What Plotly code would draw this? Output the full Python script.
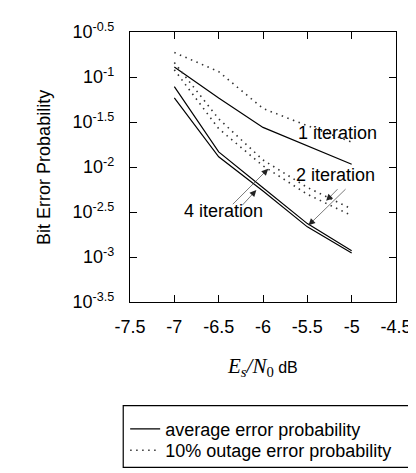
import plotly.graph_objects as go

# ---- data (log10 of bit error probability) ----
snr_db = [-7.0, -6.5, -6.0, -5.5, -5.0]
avg_iter1 = [-0.888, -1.233, -1.560, -1.764, -1.969]
out_iter1 = [-0.728, -0.940, -1.350, -1.541, -1.723]
avg_iter2 = [-1.106, -1.832, -2.230, -2.629, -2.931]
avg_iter4 = [-1.233, -1.886, -2.267, -2.665, -2.956]
out_iter2 = [-0.840, -1.465, -1.922, -2.227, -2.466]
out_iter4 = [-0.920, -1.574, -1.987, -2.303, -2.540]

x_tick_vals = [-7.5, -7, -6.5, -6, -5.5, -5, -4.5]
x_tick_text = ["-7.5", "-7", "-6.5", "-6", "-5.5", "-5", "-4.5"]
y_tick_exps = [-0.5, -1, -1.5, -2, -2.5, -3, -3.5]
y_tick_text = ["10<sup>-0.5</sup>", "10<sup>-1</sup>", "10<sup>-1.5</sup>", "10<sup>-2</sup>",
               "10<sup>-2.5</sup>", "10<sup>-3</sup>", "10<sup>-3.5</sup>"]

legend_names = ["average error probability", "10% outage error probability"]

FONT = "Liberation Sans, Arial, sans-serif"
W, H = 416, 473
L, R, T, B = 122, 19, 24, 173
PW, PH = W - L - R, H - T - B


def px_x(p):
    return (p - L) / PW


def px_y(p):
    return (H - B - p) / PH


solid = dict(color="black", width=1.2)
dotted = dict(color="#333333", width=1.6, dash="1.5px,4.5px")

fig = go.Figure()
series = [
    (avg_iter1, solid, True, legend_names[0], "legend"),
    (out_iter1, dotted, True, legend_names[1], "legend2"),
    (avg_iter2, solid, False, "avg 2", "legend"),
    (avg_iter4, solid, False, "avg 4", "legend"),
    (out_iter2, dotted, False, "out 2", "legend"),
    (out_iter4, dotted, False, "out 4", "legend"),
]
for vals, style, show, name, leg in series:
    fig.add_trace(go.Scatter(
        x=snr_db, y=[10 ** v for v in vals], mode="lines",
        line=style, name=name, showlegend=show, legend=leg,
    ))

annotations = []
# curve labels (positions in data coords, y in log10 units)
for text, xx, yy in [("1 iteration", -5.161, -1.621),
                     ("2 iteration", -5.179, -2.093),
                     ("4 iteration", -6.447, -2.491)]:
    annotations.append(dict(x=xx, y=yy, xref="x", yref="y", text=text, showarrow=False,
                            xanchor="center", yanchor="middle",
                            font=dict(family=FONT, size=18, color="black")))
# pointer arrows (head, tail)
for hx, hy, tx, ty in [(-5.941, -2.020, -6.357, -2.430),
                       (-6.075, -2.256, -6.249, -2.441),
                       (-5.288, -2.376, -5.143, -2.230),
                       (-5.487, -2.648, -5.052, -2.230)]:
    annotations.append(dict(x=hx, y=hy, xref="x", yref="y", ax=tx, ay=ty, axref="x", ayref="y",
                            text="", showarrow=True, arrowhead=2, arrowsize=2.2,
                            arrowwidth=0.6, arrowcolor="#222222", standoff=0, startstandoff=0))
# axis titles
annotations.append(dict(x=px_x(33), y=0.5, xref="paper", yref="paper", text="Bit Error Probability",
                        textangle=-90, showarrow=False, xanchor="center", yanchor="middle",
                        font=dict(family=FONT, size=18, color="black")))
annotations.append(dict(
    x=px_x(259), y=px_y(366), xref="paper", yref="paper", showarrow=False,
    xanchor="center", yanchor="middle",
    text='<span style="font-family:Liberation Serif, Times New Roman, serif;font-size:21px">'
         '<i>E<sub>s</sub>/N</i><sub>0</sub></span> dB',
    font=dict(family=FONT, size=16, color="black")))

shapes = [dict(type="rect", xref="paper", yref="paper",
               x0=px_x(115), x1=px_x(425), y0=px_y(469), y1=px_y(406),
               line=dict(color="black", width=1.2), fillcolor="rgba(0,0,0,0)")]

leg_common = dict(xanchor="left", yanchor="top", bgcolor="rgba(0,0,0,0)", borderwidth=0,
                  font=dict(family=FONT, size=18, color="black"), itemwidth=30)
fig.update_layout(
    width=W, height=H,
    margin=dict(l=L, r=R, t=T, b=B, pad=0),
    paper_bgcolor="white", plot_bgcolor="white",
    font=dict(family=FONT, size=18, color="black"),
    showlegend=True,
    legend=dict(x=px_x(117), y=px_y(411), **leg_common),
    legend2=dict(x=px_x(117), y=px_y(433), **leg_common),
    annotations=annotations,
    shapes=shapes,
)
fig.update_xaxes(range=[-7.5, -4.5], tickvals=x_tick_vals, ticktext=x_tick_text,
                 ticks="inside", ticklen=7, tickwidth=1.2, tickcolor="black",
                 showline=True, linecolor="black", linewidth=1.3, mirror="ticks",
                 showgrid=False, zeroline=False, ticklabelstandoff=8,
                 tickfont=dict(family=FONT, size=18, color="black"))
fig.update_yaxes(type="log", range=[-3.5, -0.5], tickvals=[10 ** e for e in y_tick_exps],
                 ticktext=y_tick_text,
                 ticks="inside", ticklen=7, tickwidth=1.2, tickcolor="black",
                 showline=True, linecolor="black", linewidth=1.3, mirror="ticks",
                 showgrid=False, zeroline=False, ticklabelstandoff=11,
                 tickfont=dict(family=FONT, size=18, color="black"))

fig.write_html("out.html")
